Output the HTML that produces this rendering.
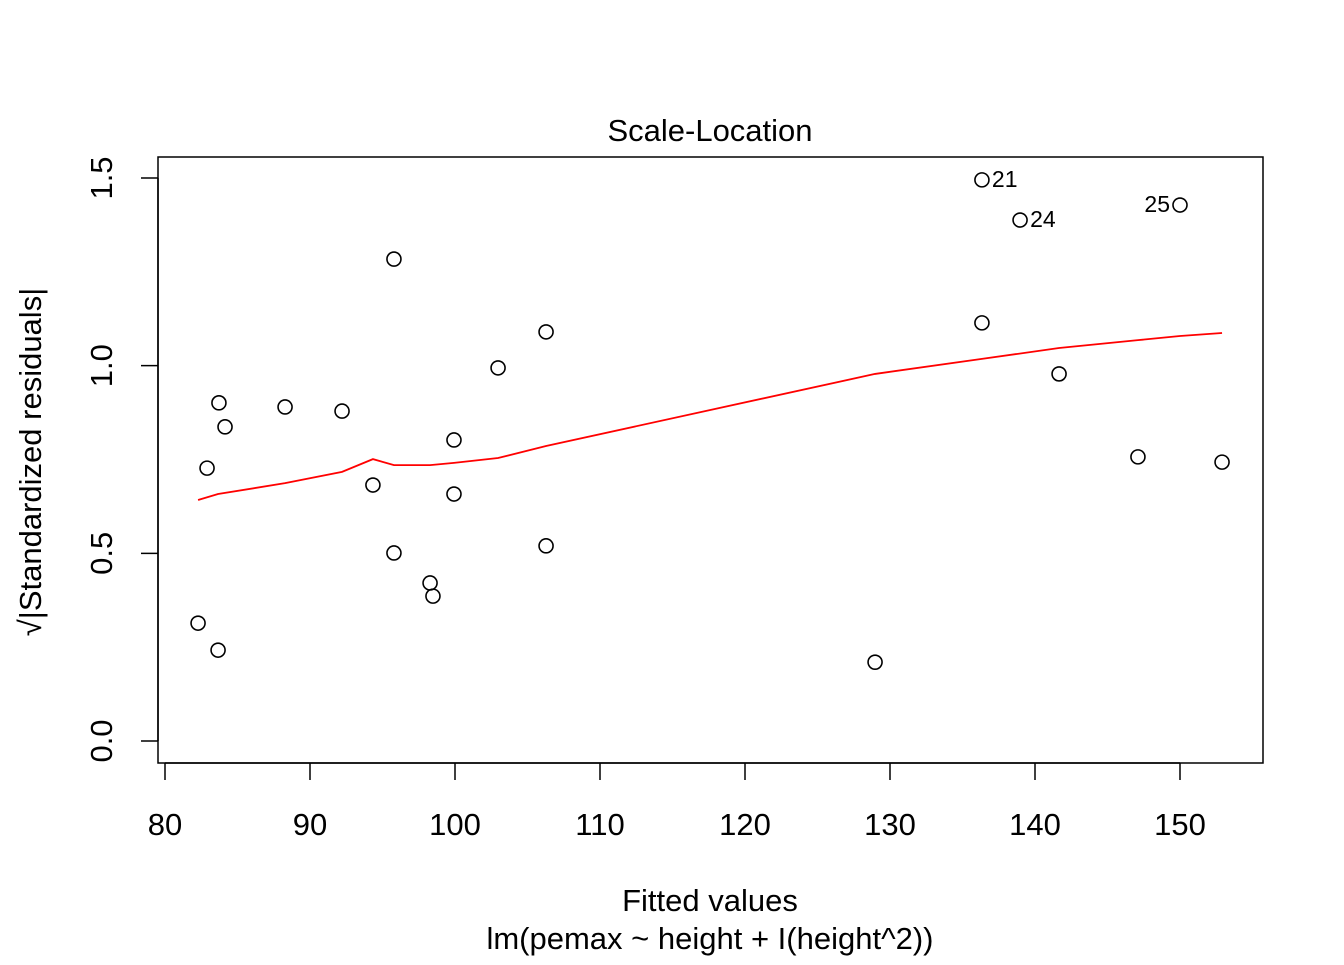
<!DOCTYPE html>
<html><head><meta charset="utf-8"><style>
html,body{margin:0;padding:0;background:#fff}
svg text{font-family:"Liberation Sans",Arial,sans-serif;fill:#000}
</style></head><body>
<svg id="chart" width="1344" height="960" xmlns="http://www.w3.org/2000/svg">
<text x="710" y="141" font-size="31" text-anchor="middle">Scale-Location</text>
<rect x="158" y="157" width="1105" height="606" fill="none" stroke="#000" stroke-width="1.5"/>
<g id="xaxis"></g>
<g id="yaxis"></g>
<g id="smooth"></g>
<g id="points"></g>
<text x="710" y="911" font-size="31" text-anchor="middle">Fitted values</text>
<text x="710" y="949" font-size="31" text-anchor="middle">lm(pemax ~ height + I(height^2))</text>
<text transform="translate(41,462) rotate(-90)" font-size="31" text-anchor="middle">√|Standardized residuals|</text>
</svg>
<script>
const xTicks=[80,90,100,110,120,130,140,150];
const yTicks=[0.0,0.5,1.0,1.5];
const fittedX=[82.28,83.66,82.90,83.72,84.14,88.28,92.21,94.34,95.79,95.79,98.28,98.48,99.93,99.93,102.97,106.28,106.28,128.97,136.34,136.34,138.97,141.66,147.10,150.00,152.90];
const residY=[0.314,0.242,0.727,0.901,0.837,0.890,0.879,0.682,1.284,0.501,0.421,0.386,0.802,0.658,0.994,1.090,0.520,0.210,1.495,1.114,1.388,0.978,0.757,1.428,0.743];
const smoothX=[82.28,83.66,88.28,92.21,94.34,95.79,98.28,99.93,102.97,106.28,128.97,136.34,141.66,147.10,150.00,152.90];
const smoothY=[0.642,0.658,0.687,0.717,0.751,0.735,0.735,0.741,0.754,0.786,0.978,1.018,1.047,1.068,1.079,1.087];
const labelIdx=[18,20,23];
const labelText=["21","24","25"];
const labelSide=["right","right","left"];
const NS="http://www.w3.org/2000/svg";
const sx=v=>165+(v-80)*14.5;
const sy=v=>741-v*375.33;
function mk(t,a,p){const e=document.createElementNS(NS,t);for(const k in a)e.setAttribute(k,a[k]);p.appendChild(e);return e;}
const xa=document.getElementById('xaxis');
mk('line',{x1:sx(80),x2:sx(150),y1:763,y2:763,stroke:'#000','stroke-width':1.5},xa);
xTicks.forEach(v=>{
  const l=mk('line',{x1:sx(v),x2:sx(v),y1:763,y2:780,stroke:'#000','stroke-width':1.5},xa);
  
  
  const t=mk('text',{x:sx(v),y:835,'font-size':31,'text-anchor':'middle'},xa);
  t.textContent=v;
  
  
});
const ya=document.getElementById('yaxis');
mk('line',{x1:158,x2:158,y1:sy(0),y2:sy(1.5),stroke:'#000','stroke-width':1.5},ya);
yTicks.forEach(v=>{
  const l=mk('line',{x1:141,x2:158,y1:sy(v),y2:sy(v),stroke:'#000','stroke-width':1.5},ya);
  
  
  const t=mk('text',{transform:`translate(112,${sy(v)}) rotate(-90)`,'font-size':31,'text-anchor':'middle'},ya);
  t.textContent=v.toFixed(1);
  
  
});
const sm=document.getElementById('smooth');
const pl=mk('polyline',{points:smoothX.map((x,i)=>sx(x)+','+sy(smoothY[i])).join(' '),fill:'none',stroke:'#ff0000','stroke-width':1.8},sm);


const pg=document.getElementById('points');
fittedX.forEach((x,i)=>{
  const c=mk('circle',{cx:sx(x),cy:sy(residY[i]),r:7,fill:'none',stroke:'#000','stroke-width':1.6},pg);
  
  
});
labelIdx.forEach((k,j)=>{
  const right=labelSide[j]==='right';
  const t=mk('text',{x:sx(fittedX[k])+(right?10:-10),y:sy(residY[k])+7,'font-size':23,'text-anchor':right?'start':'end'},pg);
  t.textContent=labelText[j];
  
  
});
</script>
</body></html>
